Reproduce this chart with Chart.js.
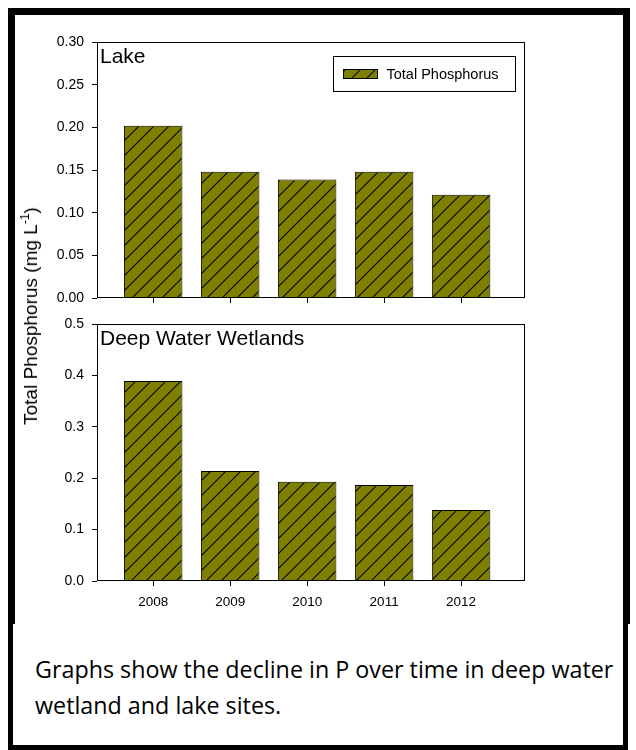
<!DOCTYPE html>
<html>
<head>
<meta charset="utf-8">
<script src="https://cdn.jsdelivr.net/npm/chart.js@4.4.1/dist/chart.umd.min.js"></script>
<style>
  body { margin: 0; background: #fff; width: 636px; height: 750px; position: relative; overflow: hidden;
         font-family: "Liberation Sans", Arial, sans-serif; }
  #frame { position: absolute; left: 8px; top: 8px; width: 622px; height: 616px; box-sizing: border-box;
           border: 7px solid #000; border-bottom: none; }
  #capbox { position: absolute; left: 8px; top: 624px; width: 620px; height: 126px; box-sizing: border-box;
            border: 5px solid #000; border-top: none; }
  #caption { position: absolute; left: 35px; top: 651px; font-family: "Open Sans", sans-serif; font-size: 23.3px;
             line-height: 36px; color: #000; white-space: nowrap; }
  #ytitle { position: absolute; left: 31px; top: 316px; transform: translate(-50%, -50%) rotate(-90deg);
            font-size: 19px; white-space: nowrap; color: #000; }
  #ytitle sup { font-size: 12px; vertical-align: 8px; line-height: 0; }
  canvas { position: absolute; }
  #lake { left: 40px; top: 30px; }
  #wet { left: 40px; top: 312px; }
</style>
</head>
<body>
<div id="frame"></div>
<canvas id="lake" width="490" height="276"></canvas>
<canvas id="wet" width="490" height="300"></canvas>
<div id="ytitle">Total Phosphorus (mg L<sup>-1</sup>)</div>
<div id="capbox"></div>
<div id="caption">Graphs show the decline in P over time in deep water<br>wetland and lake sites.</div>
<script>
const years = [2008, 2009, 2010, 2011, 2012];
const lakeTP = [0.202, 0.148, 0.139, 0.148, 0.121];
const wetlandTP = [0.389, 0.214, 0.193, 0.187, 0.138];
const lakeTicks = [0, 0.05, 0.10, 0.15, 0.20, 0.25, 0.30];
const wetlandTicks = [0, 0.1, 0.2, 0.3, 0.4, 0.5];
const seriesName = 'Total Phosphorus';

Chart.defaults.font.family = '"Liberation Sans", Arial, sans-serif';
Chart.defaults.font.size = 14;
Chart.defaults.color = '#000';

// olive fill with black "/" hatching
function hatch() {
  const s = 15;
  const c = document.createElement('canvas');
  c.width = s; c.height = s;
  const g = c.getContext('2d');
  g.fillStyle = '#808000';
  g.fillRect(0, 0, s, s);
  g.strokeStyle = '#000';
  g.lineWidth = 1.1;
  g.beginPath();
  g.moveTo(0, s); g.lineTo(s, 0);
  g.moveTo(-2, 2); g.lineTo(2, -2);
  g.moveTo(s - 2, s + 2); g.lineTo(s + 2, s - 2);
  g.stroke();
  return g.createPattern(c, 'repeat');
}
const fill = hatch();

const boxFrame = {
  id: 'boxFrame',
  afterDatasetsDraw(chart) {
    const { ctx, chartArea: a } = chart;
    ctx.save();
    ctx.strokeStyle = '#000';
    ctx.lineWidth = 1;
    const x0 = Math.round(a.left) + 0.5, y0 = Math.round(a.top) + 0.5;
    const x1 = Math.round(a.right) - 0.5, y1 = Math.round(a.bottom) - 0.5;
    ctx.strokeRect(x0, y0, x1 - x0, y1 - y0);
    ctx.restore();
  }
};

const panelLabel = {
  id: 'panelLabel',
  afterDraw(chart, args, opts) {
    const { ctx, chartArea: a } = chart;
    ctx.save();
    ctx.fillStyle = '#000';
    ctx.font = '21px "Liberation Sans", Arial, sans-serif';
    ctx.textBaseline = 'alphabetic';
    ctx.fillText(opts.text, a.left + 3, a.top + 21);
    ctx.restore();
  }
};

const legendBox = {
  id: 'legendBox',
  afterDraw(chart, args, opts) {
    if (!opts.show) return;
    const { ctx, chartArea: a } = chart;
    const ds = chart.data.datasets[0];
    const w = 182, h = 35;
    const x = Math.round(a.right - 10 - w) + 0.5, y = Math.round(a.top + 14) + 0.5;
    ctx.save();
    ctx.lineWidth = 1;
    ctx.strokeStyle = '#000';
    ctx.fillStyle = '#fff';
    ctx.fillRect(x, y, w, h);
    ctx.strokeRect(x, y, w, h);
    ctx.fillStyle = ds.backgroundColor;
    ctx.fillRect(x + 10, y + 13, 34, 9);
    ctx.strokeRect(x + 10, y + 13, 34, 9);
    ctx.fillStyle = '#000';
    ctx.font = '14.5px "Liberation Sans", Arial, sans-serif';
    ctx.textBaseline = 'middle';
    ctx.fillText(ds.label, x + 53, y + 18);
    ctx.restore();
  }
};

function makePanel(id, label, values, yTicks, decimals, showYears, showLegend, xHeight) {
  return new Chart(document.getElementById(id), {
    type: 'bar',
    data: {
      datasets: [{
        label: seriesName,
        data: years.map((yr, i) => ({ x: yr, y: values[i] })),
        backgroundColor: fill,
        borderColor: '#000',
        borderWidth: 1,
        barPercentage: 0.76,
        categoryPercentage: 1
      }]
    },
    options: {
      responsive: false,
      animation: false,
      devicePixelRatio: 1,
      layout: { padding: { top: 12, right: 5, bottom: 0, left: 0 } },
      scales: {
        x: {
          type: 'linear',
          offset: false,
          min: 2007.27,
          max: 2012.83,
          afterBuildTicks: s => { s.ticks = years.map(v => ({ value: v })); },
          afterFit: s => { s.height = xHeight; s.paddingLeft = 0; s.paddingRight = 0; },
          border: { display: false },
          grid: { offset: false, drawOnChartArea: false, drawTicks: true, tickLength: 5, color: '#000' },
          ticks: { display: showYears, padding: 8, font: { size: 13.5 }, callback: v => String(v) }
        },
        y: {
          min: yTicks[0],
          max: yTicks[yTicks.length - 1],
          afterBuildTicks: s => { s.ticks = yTicks.map(v => ({ value: v })); },
          afterFit: s => { s.width = 57; s.paddingTop = 0; s.paddingBottom = 0; },
          border: { display: false },
          grid: { drawOnChartArea: false, drawTicks: true, tickLength: 5, color: '#000' },
          ticks: { padding: 8, callback: v => Number(v).toFixed(decimals) }
        }
      },
      plugins: {
        legend: { display: false },
        tooltip: { enabled: false },
        panelLabel: { text: label },
        legendBox: { show: showLegend }
      }
    },
    plugins: [boxFrame, panelLabel, legendBox]
  });
}

makePanel('lake', 'Lake', lakeTP, lakeTicks, 2, false, true, 8);
makePanel('wet', 'Deep Water Wetlands', wetlandTP, wetlandTicks, 1, true, false, 31);
</script>
</body>
</html>
